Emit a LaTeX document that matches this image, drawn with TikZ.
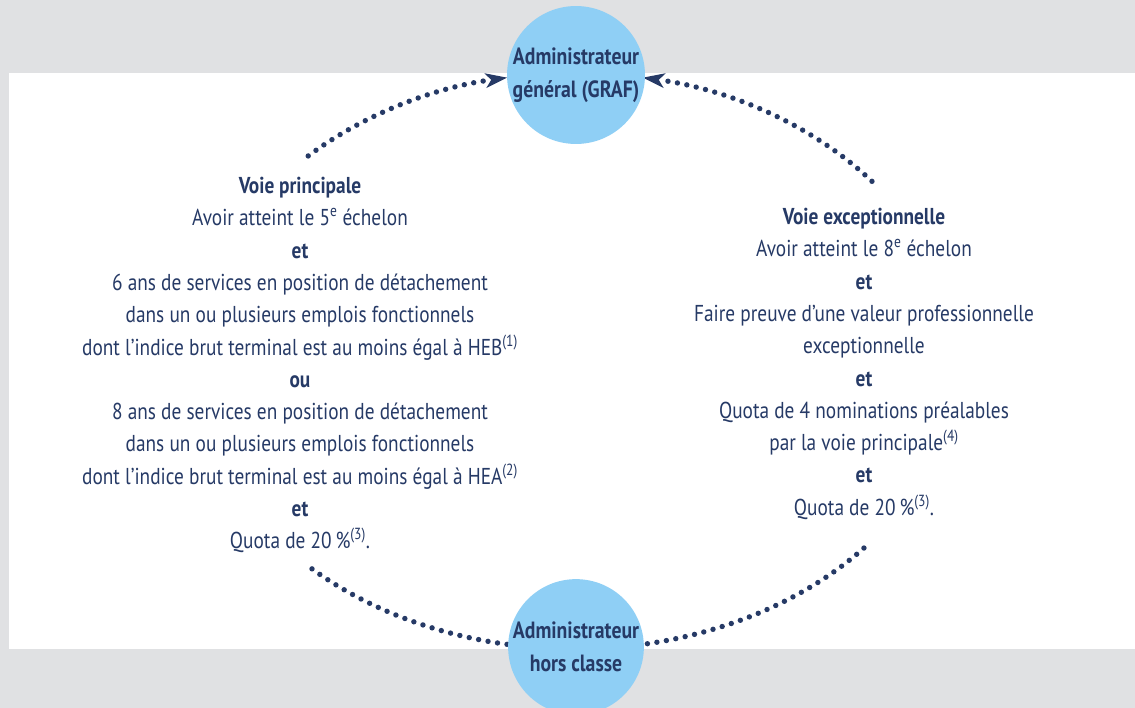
\documentclass[tikz,border=0pt]{standalone}
\usepackage{fontspec}
\setmainfont{PT Sans}[FakeStretch=0.84]
\usetikzlibrary{arrows.meta,calc}
\definecolor{bggrey}{HTML}{E0E1E3}
\definecolor{navy}{HTML}{263A66}
\definecolor{sky}{HTML}{8FCFF5}
\tikzset{
  dotline/.style={navy, line width=5.4pt, line cap=round, dash pattern=on 0pt off 9.6pt},
  tipstyle/.style={-{Stealth[length=22pt,width=15pt,inset=6pt,line width=0pt]}},
  rond/.style={circle, fill=sky, minimum size=133pt, inner sep=0pt, text=navy, align=center, font=\fontsize{23.5}{33}\selectfont\bfseries},
  bloc/.style={text=navy, align=center, font=\fontsize{23}{32.3}\selectfont, inner sep=0pt}
}
\begin{document}
\begin{tikzpicture}[x=1pt,y=1pt]
\fill[bggrey] (0,0) rectangle (1135,-708);
\useasboundingbox (0,0) rectangle (1135,-708);
\fill[white] (9,-73) rectangle (1135,-649);
\coordinate (C) at (575,-361);
\coordinate (s1) at ($(C)+(134.6:380 and 288)$);
\coordinate (s2) at ($(C)+(38.6:380 and 288)$);
\coordinate (s3) at ($(C)+(-133.8:380 and 288)$);
\coordinate (s4) at ($(C)+(-40.5:380 and 288)$);
\draw[dotline] (s3) arc[start angle=-133.8, end angle=-92, x radius=380pt, y radius=288pt];
\draw[dotline] (s4) arc[start angle=-40.5, end angle=-88, x radius=380pt, y radius=288pt];
\draw[dotline, tipstyle] (s1) arc[start angle=134.6, end angle=100.3, x radius=380pt, y radius=288pt];
\draw[dotline, tipstyle] (s2) arc[start angle=38.6, end angle=79.7, x radius=380pt, y radius=288pt];
\node[rond] (top) at (576,-75) {Administrateur\\général (GRAF)};
\node[rond] (bot) at (576,-647) {Administrateur\\hors classe};
\node[bloc, anchor=north] (left) at (300,-177) {{\bfseries Voie principale}\\
Avoir atteint le 5\textsuperscript{e} échelon\\
{\bfseries et}\\
6 ans de services en position de détachement\\
dans un ou plusieurs emplois fonctionnels\\
dont l’indice brut terminal est au moins égal à HEB\textsuperscript{(1)}\\
{\bfseries ou}\\
8 ans de services en position de détachement\\
dans un ou plusieurs emplois fonctionnels\\
dont l’indice brut terminal est au moins égal à HEA\textsuperscript{(2)}\\
{\bfseries et}\\
Quota de 20\,\%\textsuperscript{(3)}.};
\node[bloc, anchor=north] (right) at (864,-208) {{\bfseries Voie exceptionnelle}\\
Avoir atteint le 8\textsuperscript{e} échelon\\
{\bfseries et}\\
Faire preuve d’une valeur professionnelle\\
exceptionnelle\\
{\bfseries et}\\
Quota de 4 nominations préalables\\
par la voie principale\textsuperscript{(4)}\\
{\bfseries et}\\
Quota de 20\,\%\textsuperscript{(3)}.};
\end{tikzpicture}
\end{document}
